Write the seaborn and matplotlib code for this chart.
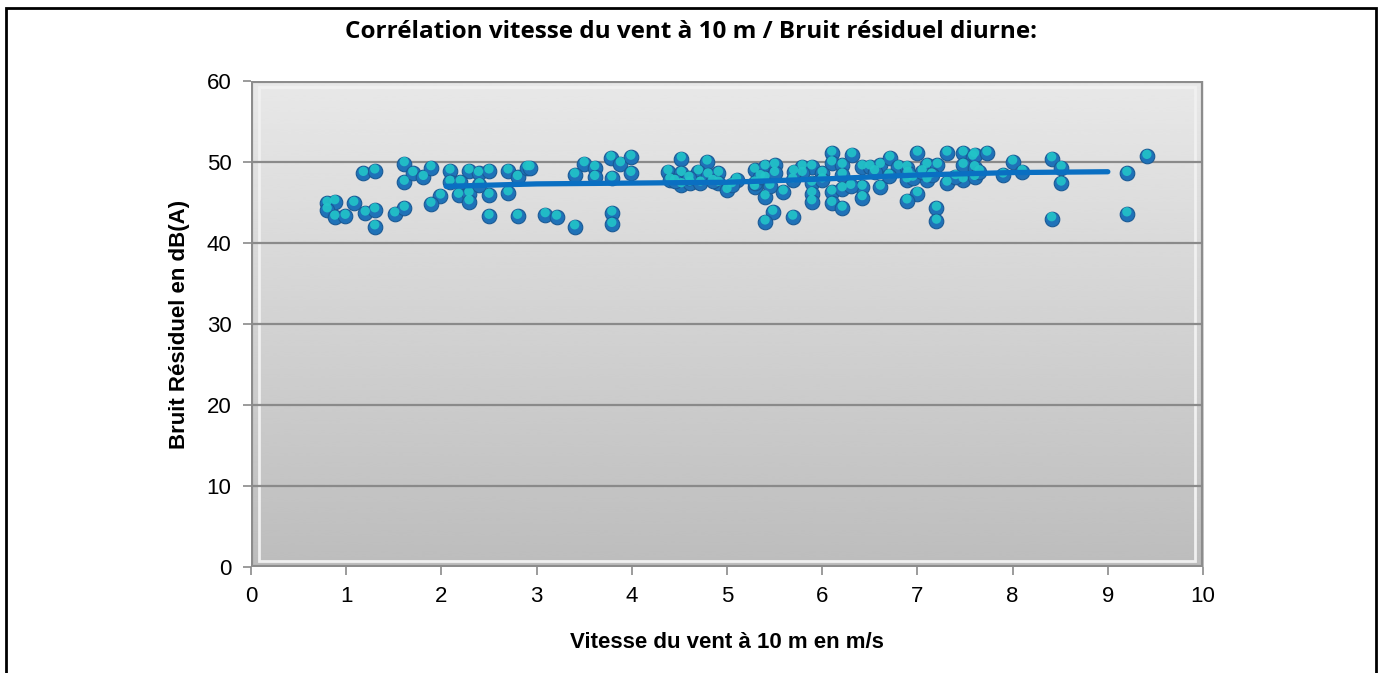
import matplotlib.pyplot as plt
import numpy as np
import pandas as pd
import seaborn as sns
from matplotlib.patches import Rectangle

# wind speed at 10 m (m/s) and residual noise dB(A)
vitesse = [
    1.18, 1.30, 1.61, 1.61, 1.70, 1.81, 1.89, 2.09, 2.09, 2.29, 2.39, 2.50, 2.70, 2.80, 2.90,
    1.99, 1.89, 2.18, 2.29, 2.29, 2.50, 2.70, 0.80, 0.88, 0.80, 0.88, 0.99, 1.08, 1.20, 1.30,
    1.30, 1.51, 1.61, 2.50, 2.80, 2.93, 3.50, 3.61, 3.40, 3.61, 3.78, 3.88, 3.99, 3.99, 3.79,
    4.52, 4.79, 4.38, 4.52, 4.40, 4.52, 4.61, 4.70, 4.72, 4.80, 4.91, 4.91, 5.00, 5.10, 5.29,
    5.29, 3.09, 3.21, 3.40, 3.79, 3.79, 5.40, 5.50, 5.29, 5.40, 5.50, 5.40, 5.59, 5.48, 5.40,
    5.69, 5.79, 5.89, 5.79, 5.69, 5.89, 6.00, 5.89, 5.89, 6.10, 6.10, 6.21, 6.31, 6.21, 6.10,
    6.21, 6.10, 6.21, 6.42, 6.50, 6.61, 6.71, 6.42, 6.42, 6.61, 6.80, 6.89, 7.00, 7.10, 7.21,
    6.89, 7.00, 6.89, 7.10, 7.31, 7.31, 7.48, 7.58, 7.48, 7.48, 7.20, 7.20, 7.60, 7.73, 7.60,
    7.60, 7.90, 8.00, 8.10, 8.41, 8.51, 8.51, 8.41, 9.20, 9.20, 9.41, 2.20, 2.40, 4.45, 4.60,
    4.85, 5.05, 5.35, 5.45, 5.70, 6.00, 6.30, 6.55, 6.70, 6.95, 7.05, 7.15, 7.40, 7.65, 6.90,
]
bruit = [
    48.6, 48.9, 49.8, 47.5, 48.6, 48.1, 49.3, 48.9, 47.5, 48.9, 48.6, 48.9, 48.9, 48.1, 49.3,
    45.8, 44.8, 45.9, 46.1, 45.1, 45.9, 46.2, 44.9, 45.1, 44.1, 43.2, 43.3, 44.9, 43.7, 44.1,
    42.0, 43.6, 44.3, 43.3, 43.3, 49.3, 49.8, 49.3, 48.4, 48.1, 50.5, 49.8, 50.6, 48.6, 48.0,
    50.4, 50.0, 48.8, 48.6, 47.8, 47.2, 47.4, 48.8, 47.4, 48.4, 48.6, 47.4, 46.5, 47.8, 49.0,
    46.9, 43.5, 43.2, 42.0, 43.7, 42.3, 49.4, 49.6, 47.4, 48.0, 48.6, 45.7, 46.3, 43.8, 42.6,
    43.2, 49.4, 49.4, 48.6, 47.8, 47.4, 48.6, 46.1, 45.1, 51.1, 49.9, 49.6, 50.9, 48.4, 46.3,
    46.7, 44.9, 44.3, 49.4, 49.4, 49.6, 50.5, 46.9, 45.6, 46.9, 49.4, 49.3, 51.1, 49.6, 49.6,
    47.8, 46.1, 45.2, 47.8, 51.1, 47.4, 51.1, 50.6, 49.6, 47.8, 44.3, 42.7, 50.9, 51.1, 49.3,
    48.1, 48.4, 50.0, 48.8, 50.4, 49.3, 47.4, 43.0, 48.6, 43.6, 50.7, 47.5, 47.2, 47.6, 48.0,
    47.6, 47.2, 48.2, 47.0, 48.8, 47.8, 47.0, 48.8, 48.3, 48.0, 48.8, 48.4, 48.2, 48.8, 48.6,
]

# trend curve
tendance_x = [2.05, 3, 4, 5, 6, 7, 8, 9]
tendance_y = [47.0, 47.3, 47.4, 47.5, 47.9, 48.4, 48.7, 48.8]

df = pd.DataFrame({"vitesse": vitesse, "bruit": bruit})
trend = pd.DataFrame({"x": tendance_x, "y": tendance_y})

sns.set_theme(style="white")
plt.rcParams["font.family"] = ["Liberation Sans", "DejaVu Sans"]
plt.rcParams["text.color"] = "black"
plt.rcParams["axes.labelcolor"] = "black"

fig = plt.figure(figsize=(13.82, 6.73), dpi=100)
ax = fig.add_axes([0.1816, 0.1575, 0.6889, 0.7221])

# outer black frame
fig.patches.append(Rectangle((0.004, -0.02), 0.9915, 1.008, transform=fig.transFigure,
                             fill=False, edgecolor="black", linewidth=2.0))

# gradient plot area with bevel
grad = np.linspace(0.91, 0.74, 256).reshape(-1, 1)
ax.imshow(grad, extent=[0, 1, 0, 1], transform=ax.transAxes, cmap="gray", vmin=0, vmax=1,
          aspect="auto", zorder=0, interpolation="bicubic")
ax.add_patch(Rectangle((0.008, 0.012), 0.984, 0.976, transform=ax.transAxes, fill=False,
                       edgecolor="#f0f0f0", linewidth=2.0, zorder=1))
ax.add_patch(Rectangle((0.0, 0.0), 1.0, 1.0, transform=ax.transAxes, fill=False,
                       edgecolor="#8c8c8c", linewidth=3.0, zorder=1))

for yv in [10, 20, 30, 40, 50]:
    ax.axhline(yv, color="#8a8a8a", linewidth=1.6, zorder=2)

# spheres: dark blue base with cyan highlight on top
sns.scatterplot(data=df, x="vitesse", y="bruit", ax=ax, s=110, color="#1f72b8",
                edgecolor="#1a5a95", linewidth=0.8, zorder=3)
sns.scatterplot(data=df, x="vitesse", y=df["bruit"] + 0.25, ax=ax, s=45, color="#22c4c8",
                edgecolor="none", linewidth=0, zorder=3, alpha=0.9)
sns.lineplot(data=trend, x="x", y="y", ax=ax, color="#0a6fc2", linewidth=3.8, zorder=4,
             solid_capstyle="round")

ax.set_xlim(0, 10)
ax.set_ylim(0, 60)
ax.set_xticks(range(0, 11))
ax.set_yticks(range(0, 61, 10))
ax.tick_params(axis="both", labelsize=16, labelcolor="black", length=6, width=1.2,
               direction="out", left=True, bottom=True, pad=8, color="#8a8a8a")
for s in ax.spines.values():
    s.set_visible(False)

ax.set_xlabel("Vitesse du vent à 10 m en m/s", fontsize=16, fontweight="bold", labelpad=18)
ax.set_ylabel("Bruit Résiduel en dB(A)", fontsize=16, fontweight="bold", labelpad=12)

fig.text(0.5, 0.953, "Corrélation vitesse du vent à 10 m / Bruit résiduel diurne:",
         ha="center", va="center", fontsize=17.5, fontweight="bold", color="black",
         family=["Open Sans", "DejaVu Sans"])

fig.savefig("out.png", dpi=100)
